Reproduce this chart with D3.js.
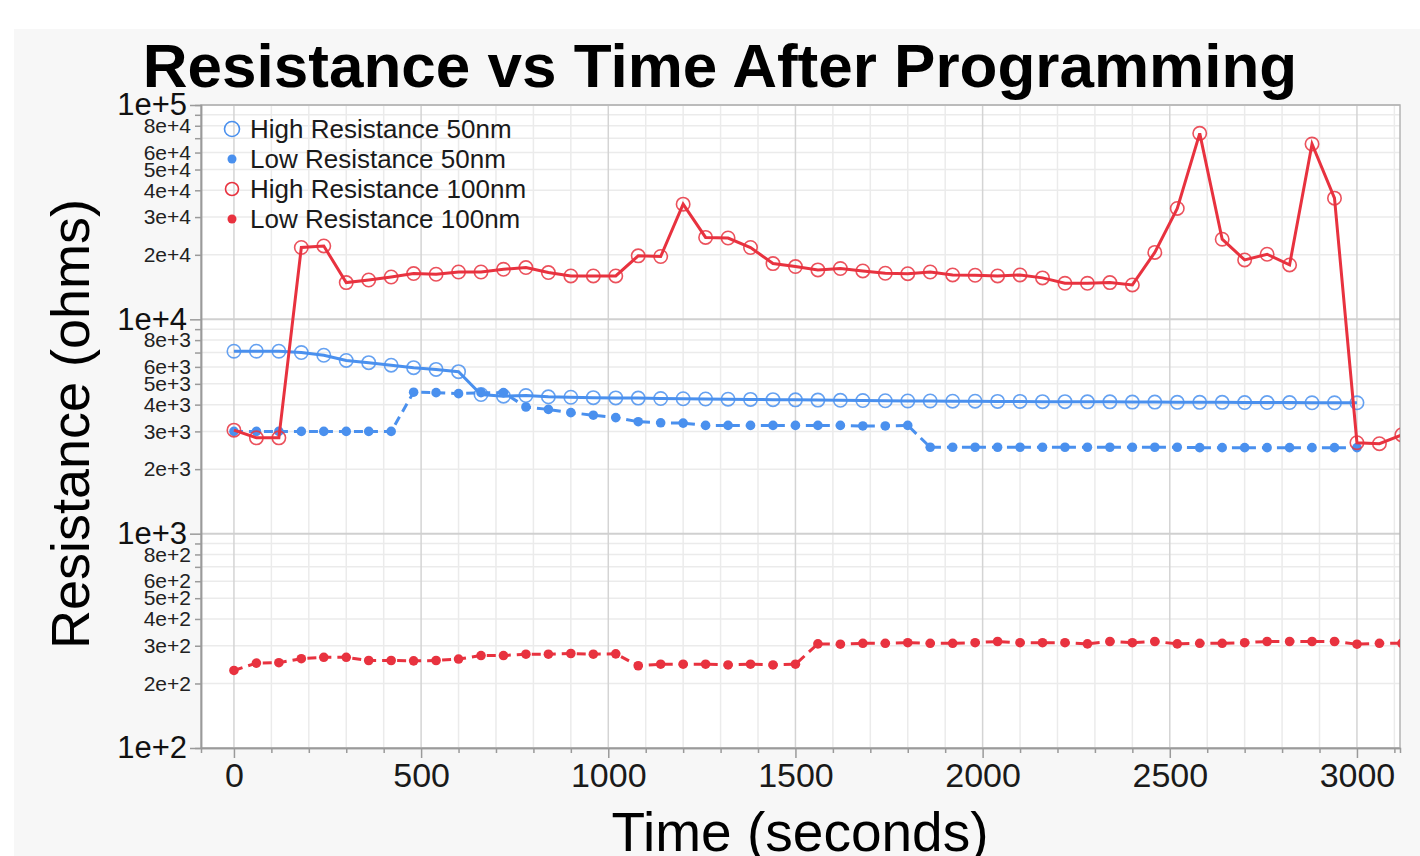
<!DOCTYPE html>
<html>
<head>
<meta charset="utf-8">
<script src="https://cdn.jsdelivr.net/npm/d3@7.9.0/dist/d3.min.js"></script>
<style>
  body { margin: 0; background: #fff; }
  text { font-family: "Liberation Sans", Arial, sans-serif; }
</style>
</head>
<body>
<svg id="chart" width="1420" height="856"></svg>
<script>
// sample times (seconds), one reading per minute
const timeSec = [0, 60, 120, 180, 240, 300, 360, 420, 480, 540,
  600, 660, 720, 780, 840, 900, 960, 1020, 1080, 1140,
  1200, 1260, 1320, 1380, 1440, 1500, 1560, 1620, 1680, 1740,
  1800, 1860, 1920, 1980, 2040, 2100, 2160, 2220, 2280, 2340,
  2400, 2460, 2520, 2580, 2640, 2700, 2760, 2820, 2880, 2940,
  3000, 3060, 3120];

const highRes50nm = [7100, 7100, 7100, 7000, 6800, 6430, 6280, 6110, 5950, 5840,
  5700, 4460, 4380, 4410, 4350, 4330, 4310, 4300, 4290, 4270,
  4260, 4250, 4240, 4230, 4220, 4210, 4200, 4190, 4180, 4170,
  4160, 4160, 4150, 4150, 4140, 4140, 4130, 4130, 4120, 4120,
  4110, 4110, 4100, 4100, 4100, 4090, 4090, 4090, 4080, 4080,
  4080];

const lowRes50nm = [3000, 3000, 3000, 3000, 3000, 3000, 3000, 3000, 4570, 4550,
  4500, 4550, 4550, 3900, 3800, 3670, 3570, 3480, 3330, 3290,
  3280, 3200, 3200, 3200, 3200, 3200, 3200, 3200, 3180, 3180,
  3200, 2530, 2530, 2530, 2530, 2530, 2530, 2530, 2530, 2530,
  2530, 2530, 2530, 2520, 2520, 2520, 2520, 2520, 2520, 2520,
  2520];

const highRes100nm = [3040, 2800, 2800, 21630, 22000, 14840, 15260, 15760, 16350, 16230,
  16630, 16630, 17120, 17440, 16530, 15940, 15940, 15940, 19780, 19640,
  34460, 24110, 23960, 21630, 18200, 17630, 17010, 17260, 16820, 16410,
  16330, 16630, 16110, 16060, 15940, 16110, 15610, 14730, 14730, 14840,
  14470, 20520, 32910, 73760, 23650, 18930, 20120, 17940, 65750, 36760,
  2657, 2629, 2890];

const lowRes100nm = [230, 249, 250, 261, 265, 265, 256, 256, 255, 256,
  260, 270, 270, 274, 274, 276, 274, 275, 242, 246,
  246, 246, 244, 246, 244, 246, 306, 305, 308, 308,
  310, 308, 308, 310, 314, 310, 310, 310, 306, 314,
  310, 314, 306, 308, 308, 310, 314, 314, 314, 314,
  305, 308, 308];

const seriesNames = ['High Resistance 50nm', 'Low Resistance 50nm', 'High Resistance 100nm', 'Low Resistance 100nm'];
const xTickValues = [0, 500, 1000, 1500, 2000, 2500, 3000];
const yDecades = [100, 1000, 10000, 100000];
const yMinorMultipliers = [2, 3, 4, 5, 6, 7, 8, 9];
const yLabeledMultipliers = [2, 3, 4, 5, 6, 8];

const blue = '#4a90ee';
const red = '#e8323f';

const svg = d3.select('#chart');
const plot = { left: 201, right: 1400, top: 105, bottom: 748 };

const x = d3.scaleLinear().domain([-88, 3115]).range([plot.left, plot.right]);
const y = d3.scaleLog().domain([100, 100000]).range([plot.bottom, plot.top]);

// panel backgrounds
svg.append('rect').attr('x', 14).attr('y', 29).attr('width', 1406).attr('height', 827).attr('fill', '#f7f7f7');
svg.append('rect').attr('x', plot.left).attr('y', plot.top)
  .attr('width', plot.right - plot.left).attr('height', plot.bottom - plot.top).attr('fill', '#fff');

// grid
const minorX = d3.range(0, 3101, 100).filter(d => d % 500 !== 0);
const minorY = yDecades.slice(0, 3).flatMap(d => yMinorMultipliers.map(m => m * d));
const grid = svg.append('g');
grid.selectAll('.gx').data(minorX).join('line')
  .attr('x1', d => x(d)).attr('x2', d => x(d)).attr('y1', plot.top).attr('y2', plot.bottom)
  .attr('stroke', '#ebebeb').attr('stroke-width', 1.5);
grid.selectAll('.gy').data(minorY).join('line')
  .attr('x1', plot.left).attr('x2', plot.right).attr('y1', d => y(d)).attr('y2', d => y(d))
  .attr('stroke', '#ebebeb').attr('stroke-width', 1.5);
grid.selectAll('.gX').data(xTickValues).join('line')
  .attr('x1', d => x(d)).attr('x2', d => x(d)).attr('y1', plot.top).attr('y2', plot.bottom)
  .attr('stroke', '#d4d4d4').attr('stroke-width', 1.5);
grid.selectAll('.gY').data(yDecades).join('line')
  .attr('x1', plot.left).attr('x2', plot.right).attr('y1', d => y(d)).attr('y2', d => y(d))
  .attr('stroke', '#d0d0d0').attr('stroke-width', 2);

// plot frame
svg.append('rect').attr('x', plot.left).attr('y', plot.top)
  .attr('width', plot.right - plot.left).attr('height', plot.bottom - plot.top)
  .attr('fill', 'none').attr('stroke', '#b4b4b4').attr('stroke-width', 1.5);

// x axis
const xAxis = svg.append('g').attr('transform', `translate(0,${plot.bottom})`);
xAxis.call(d3.axisBottom(x).tickValues(xTickValues).tickSize(10).tickSizeOuter(0).tickFormat(d3.format('d')));
xAxis.append('g').call(d3.axisBottom(x).tickValues(minorX).tickSize(5).tickFormat(''));
xAxis.selectAll('.domain').attr('stroke', '#9a9a9a').attr('stroke-width', 1.5);
xAxis.selectAll('.tick line').attr('stroke', '#9a9a9a').attr('stroke-width', 1.5);
xAxis.selectAll('.tick text').attr('font-size', 34).attr('fill', '#1a1a1a').attr('y', 15)
  .attr('font-family', '"Liberation Sans", Arial, sans-serif');

// y axis
const yAxis = svg.append('g').attr('transform', `translate(${plot.left},0)`);
yAxis.call(d3.axisLeft(y).tickValues(yDecades).tickSize(11).tickSizeOuter(0)
  .tickFormat(d => `1e+${Math.round(Math.log10(d))}`));
yAxis.append('g').call(d3.axisLeft(y).tickValues(minorY).tickSize(6)
  .tickFormat(d => {
    const k = Math.floor(Math.log10(d) + 1e-9);
    const m = Math.round(d / Math.pow(10, k));
    return yLabeledMultipliers.includes(m) ? `${m}e+${k}` : '';
  }));
yAxis.selectAll('.domain').attr('stroke', '#9a9a9a').attr('stroke-width', 1.5);
yAxis.selectAll('.tick line').attr('stroke', '#9a9a9a').attr('stroke-width', 1.5);
yAxis.selectAll(':scope > .tick text').attr('font-size', 31).attr('fill', '#111').attr('x', -14)
  .attr('font-family', '"Liberation Sans", Arial, sans-serif');
yAxis.selectAll('g g .tick text').attr('font-size', 21).attr('fill', '#222').attr('x', -10)
  .attr('font-family', '"Liberation Sans", Arial, sans-serif');

// titles
svg.append('text').attr('x', 720).attr('y', 87).attr('text-anchor', 'middle')
  .attr('font-size', 62).attr('font-weight', 'bold').attr('fill', '#000')
  .text('Resistance vs Time After Programming');
svg.append('text').attr('x', 800).attr('y', 851).attr('text-anchor', 'middle')
  .attr('font-size', 55).attr('fill', '#000').text('Time (seconds)');
svg.append('text').attr('transform', 'translate(89,424) rotate(-90)').attr('text-anchor', 'middle')
  .attr('font-size', 54).attr('fill', '#000').text('Resistance (ohms)');

// data series
svg.append('clipPath').attr('id', 'clip').append('rect')
  .attr('x', plot.left).attr('y', plot.top)
  .attr('width', plot.right - plot.left).attr('height', plot.bottom - plot.top);
const marks = svg.append('g').attr('clip-path', 'url(#clip)');

const series = [
  { values: highRes50nm, color: blue, open: true },
  { values: lowRes50nm, color: blue, open: false },
  { values: highRes100nm, color: red, open: true },
  { values: lowRes100nm, color: red, open: false }
];

const line = d3.line().x(d => x(d[0])).y(d => y(d[1]));

series.forEach(s => {
  const pts = s.values.map((v, i) => [timeSec[i], v]);
  marks.append('path').datum(pts)
    .attr('d', line).attr('fill', 'none').attr('stroke', s.color)
    .attr('stroke-width', 3).attr('stroke-dasharray', s.open ? null : '9,6');
  marks.selectAll(null).data(pts).join('circle')
    .attr('cx', d => x(d[0])).attr('cy', d => y(d[1]))
    .attr('r', s.open ? 6.7 : 4.8)
    .attr('fill', s.open ? 'none' : s.color)
    .attr('stroke', s.open ? s.color : 'none')
    .attr('stroke-opacity', 0.85)
    .attr('stroke-width', 1.6);
});

// legend
const legend = svg.append('g');
seriesNames.forEach((name, i) => {
  const s = series[i];
  const ly = 129 + i * 30;
  legend.append('circle').attr('cx', 232).attr('cy', ly)
    .attr('r', s.open ? (i === 0 ? 7.5 : 6.5) : 4.5)
    .attr('fill', s.open ? 'none' : s.color)
    .attr('stroke', s.open ? s.color : 'none').attr('stroke-width', 1.6);
  legend.append('text').attr('x', 250).attr('y', ly).attr('dy', '0.36em')
    .attr('font-size', 26).attr('fill', '#1a1a1a').text(name);
});
</script>
</body>
</html>
